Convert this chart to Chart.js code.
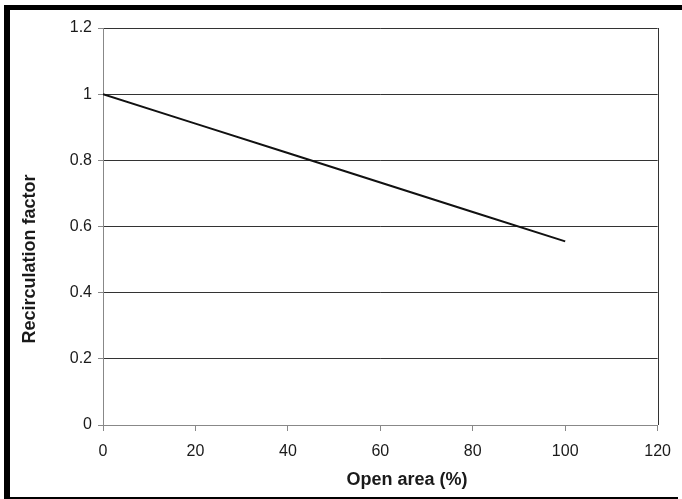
<!DOCTYPE html>
<html lang="en">
<head>
    <meta charset="UTF-8">
    <title>Recirculation factor</title>
    <script src="https://cdn.jsdelivr.net/npm/chart.js"></script>
    <style>
        body {
            margin: 0;
            padding: 0;
            background-color: #fff;
            width: 682px;
            height: 499px;
            position: relative;
            overflow: hidden;
        }
        .bar { position: absolute; background: #000; }
        #chartBox {
            position: absolute;
            left: 0;
            top: 0;
            width: 682px;
            height: 499px;
        }
    </style>
</head>
<body>
    <div class="bar" style="left:4px;top:5px;width:678px;height:5px"></div>
    <div class="bar" style="left:4px;top:5px;width:6px;height:494px"></div>
    <div class="bar" style="left:4px;top:497px;width:674px;height:2px"></div>
    <div id="chartBox"><canvas id="chart"></canvas></div>

    <script>
        // values
        var openArea = [0, 20, 40, 60, 80, 100];
        var recircFactor = [1, 0.911, 0.822, 0.733, 0.644, 0.555];
        var xTicks = [0, 20, 40, 60, 80, 100, 120];
        var yTicks = [0, 0.2, 0.4, 0.6, 0.8, 1, 1.2];
        var xTitle = 'Open area (%)';
        var yTitle = 'Recirculation factor';

        var points = openArea.map(function (x, i) { return { x: x, y: recircFactor[i] }; });

        // right hand border of the plot + the two axis titles (they sit off-centre in the figure)
        var plotExtras = {
            id: 'plotExtras',
            afterDraw: function (chart) {
                var a = chart.chartArea, c = chart.ctx;
                c.save();
                c.strokeStyle = '#333';
                c.lineWidth = 1;
                c.beginPath();
                c.moveTo(Math.round(a.right) + 0.5, a.top);
                c.lineTo(Math.round(a.right) + 0.5, a.bottom);
                c.stroke();

                c.fillStyle = '#1a1a1a';
                c.font = 'bold 18px "Liberation Sans", Arial, sans-serif';
                c.textAlign = 'center';
                c.textBaseline = 'middle';
                c.fillText(xTitle, 407, 480);
                c.translate(30, 259);
                c.rotate(-Math.PI / 2);
                c.fillText(yTitle, 0, 0);
                c.restore();
            }
        };

        Chart.defaults.font.family = '"Liberation Sans", Arial, sans-serif';
        Chart.defaults.color = '#1a1a1a';

        new Chart(document.getElementById('chart'), {
            type: 'line',
            data: {
                datasets: [{
                    data: points,
                    borderColor: '#111',
                    borderWidth: 2,
                    pointRadius: 0,
                    tension: 0,
                    fill: false
                }]
            },
            options: {
                responsive: true,
                maintainAspectRatio: false,
                animation: false,
                layout: { padding: { left: 0, top: 28, right: 23, bottom: 0 } },
                plugins: { legend: { display: false }, tooltip: { enabled: false } },
                scales: {
                    x: {
                        type: 'linear',
                        min: xTicks[0],
                        max: xTicks[xTicks.length - 1],
                        afterBuildTicks: function (s) { s.ticks = xTicks.map(function (v) { return { value: v }; }); },
                        afterFit: function (s) { s.height = 74; },
                        grid: { drawOnChartArea: false, color: '#888', tickLength: 6 },
                        border: { color: '#888', width: 1 },
                        ticks: { font: { size: 16 }, padding: 11, maxRotation: 0 }
                    },
                    y: {
                        min: yTicks[0],
                        max: yTicks[yTicks.length - 1],
                        afterBuildTicks: function (s) { s.ticks = yTicks.map(function (v) { return { value: v }; }); },
                        afterFit: function (s) { s.width = 103; },
                        grid: {
                            color: function (ctx) { return ctx.tick && ctx.tick.value === 0 ? '#888' : '#333'; },
                            tickColor: '#888',
                            tickLength: 5
                        },
                        border: { color: '#888', width: 1 },
                        ticks: {
                            font: { size: 16 },
                            padding: 6,
                            callback: function (v) { return String(Math.round(v * 10) / 10); }
                        }
                    }
                }
            },
            plugins: [plotExtras]
        });
    </script>
</body>
</html>
